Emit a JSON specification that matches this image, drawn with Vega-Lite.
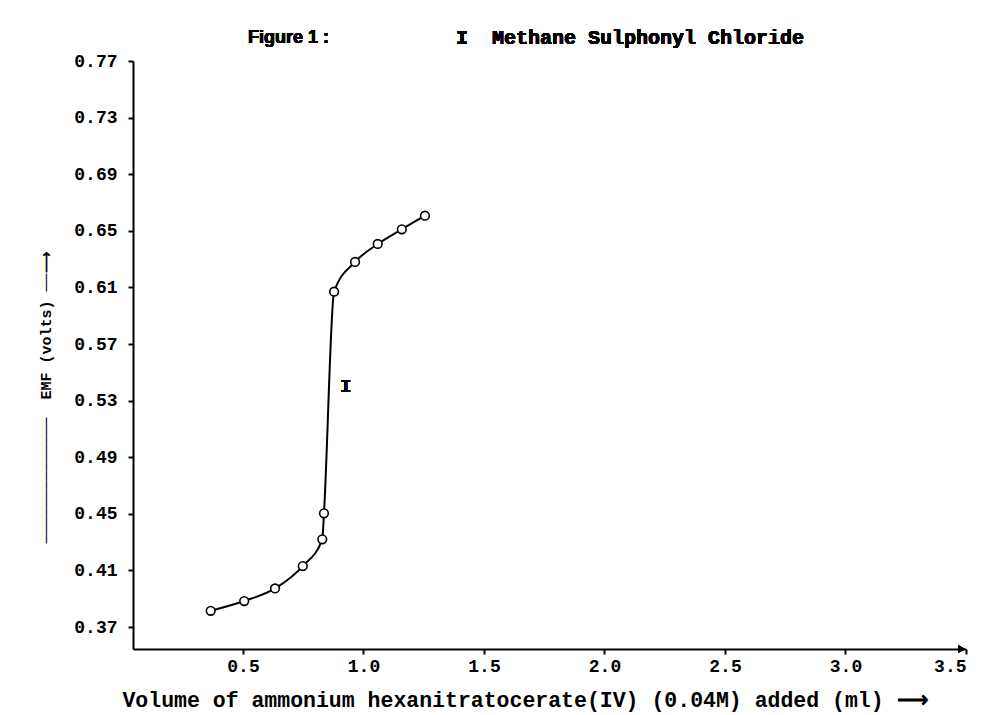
{
  "$schema": "https://vega.github.io/schema/vega-lite/v6.json",
  "autosize": "none",
  "width": 833,
  "height": 588,
  "padding": {"left": 133, "top": 61, "right": 20, "bottom": 66},
  "background": "white",
  "config": {
    "view": {"stroke": null},
    "axis": {
      "grid": false,
      "domainColor": "black",
      "domainWidth": 2,
      "tickColor": "black",
      "tickWidth": 2,
      "tickSize": 5,
      "labelFont": "Liberation Mono",
      "labelFontWeight": "bold",
      "labelFontSize": 18,
      "labelColor": "black",
      "titleFont": "Liberation Mono",
      "titleFontWeight": "bold",
      "titleColor": "black"
    }
  },
  "data": {
    "values": [
      {"v": 0.366, "emf": 0.3815},
      {"v": 0.505, "emf": 0.3884},
      {"v": 0.633, "emf": 0.3973},
      {"v": 0.748, "emf": 0.4131},
      {"v": 0.829, "emf": 0.432},
      {"v": 0.836, "emf": 0.4504},
      {"v": 0.878, "emf": 0.607},
      {"v": 0.965, "emf": 0.628},
      {"v": 1.059, "emf": 0.6407},
      {"v": 1.159, "emf": 0.6511},
      {"v": 1.255, "emf": 0.6607}
    ]
  },
  "layer": [
    {
      "mark": {"type": "line", "interpolate": "monotone", "color": "black", "strokeWidth": 2},
      "encoding": {
        "x": {
          "field": "v", "type": "quantitative",
          "scale": {"domain": [0.0436, 3.5], "nice": false, "zero": false},
          "axis": {
            "values": [0.5, 1.0, 1.5, 2.0, 2.5, 3.0, 3.5],
            "format": ".1f",
            "labelPadding": 3,
            "title": "Volume of ammonium hexanitratocerate(IV) (0.04M) added (ml) ⟶",
            "titleFontSize": 21.5,
            "titleX": 392,
            "titleY": 51,
            "titleBaseline": "middle",
            "titleAlign": "center"
          }
        },
        "y": {
          "field": "emf", "type": "quantitative",
          "scale": {"domain": [0.3545, 0.77], "nice": false, "zero": false},
          "axis": {
            "values": [0.37, 0.41, 0.45, 0.49, 0.53, 0.57, 0.61, 0.65, 0.69, 0.73, 0.77],
            "format": ".2f",
            "labelPadding": 11,
            "title": "──────────────\u00a0\u00a0EMF (volts)\u00a0──⟶",
            "titleFontSize": 15,
            "titleX": -88,
            "titleY": 336,
            "titleAngle": -90,
            "titleBaseline": "middle",
            "titleAlign": "center"
          }
        }
      }
    },
    {
      "mark": {"type": "point", "shape": "circle", "filled": true, "fill": "white", "stroke": "black", "strokeWidth": 1.6, "size": 75, "opacity": 1},
      "encoding": {
        "x": {"field": "v", "type": "quantitative"},
        "y": {"field": "emf", "type": "quantitative"}
      }
    },
    {
      "mark": {"type": "text", "text": "I", "font": "Liberation Mono", "fontWeight": "bold", "fontSize": 19, "color": "black"},
      "encoding": {
        "x": {"datum": 0.926},
        "y": {"datum": 0.54}
      }
    },
    {
      "mark": {"type": "text", "text": "Figure 1 :", "font": "Liberation Sans", "fontWeight": "bold", "fontSize": 18, "color": "black", "align": "left", "baseline": "middle", "clip": false},
      "encoding": {
        "x": {"datum": 0.5207},
        "y": {"datum": 0.7863}
      }
    },
    {
      "mark": {"type": "text", "text": "I\u00a0\u00a0Methane Sulphonyl Chloride", "font": "Liberation Mono", "fontWeight": "bold", "fontSize": 20, "color": "black", "align": "left", "baseline": "middle", "clip": false},
      "encoding": {
        "x": {"datum": 1.3838},
        "y": {"datum": 0.7863}
      }
    },
    {
      "mark": {"type": "point", "shape": "triangle-right", "filled": true, "color": "black", "size": 60, "opacity": 1, "clip": false},
      "encoding": {
        "x": {"datum": 3.482},
        "y": {"datum": 0.3545}
      }
    }
  ]
}
